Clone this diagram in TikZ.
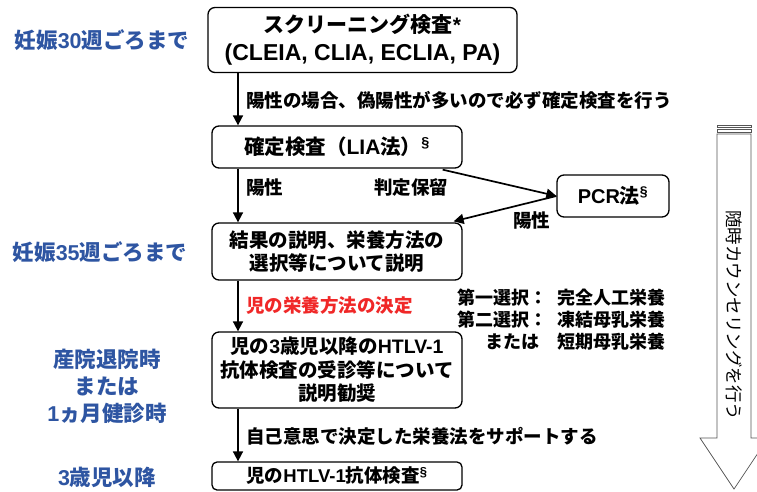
\documentclass[tikz,border=0pt]{standalone}
\usepackage{fontspec}
\setmainfont{Noto Sans CJK JP}
\newfontfamily\lat{Liberation Sans}
\usetikzlibrary{arrows.meta,calc}
\definecolor{lblue}{HTML}{2E55A2}
\definecolor{lred}{HTML}{F02828}
\definecolor{agray}{HTML}{555555}
\newcommand{\sect}{{\lat\textsuperscript{§}}}
\begin{document}
\begin{tikzpicture}[x=1pt,y=-1pt,
  box/.style={draw, rounded corners=7pt, line width=1.3pt, align=center, inner sep=0pt,
    font={\fontsize{19.5}{23.5}\selectfont\bfseries}},
  arr/.style={line width=1.7pt, -{Triangle[length=10pt,width=10pt]}},
  lbl/.style={anchor=west, inner sep=0pt, font={\fontsize{18.5}{22}\selectfont\bfseries}},
  side/.style={inner sep=0pt, align=center, text=lblue, font={\fontsize{21.5}{27}\selectfont\bfseries}},
  opt/.style={inner sep=0pt, font={\fontsize{18}{22}\selectfont\bfseries}}]
\fill[white] (0,0) rectangle (757,491);
\useasboundingbox (0,0) rectangle (757,491);

% big side arrow
\draw[agray, line width=0.7pt, fill=white] (717,125) rectangle (751,127.5);
\draw[agray, line width=0.7pt, fill=white] (717,129.5) rectangle (751,132);
\draw[agray, line width=0.7pt, fill=white] (717,134) -- (717,438) -- (700,438) -- (734,489) -- (768,438) -- (751,438) -- (751,134) -- cycle;
\node[rotate=-90, inner sep=0pt, font={\fontsize{17.5}{20}\selectfont}] (couns) at (734,315) {随時カウンセリングを行う};

% boxes
\node[box, minimum width=309pt, minimum height=65pt, font={\fontsize{21}{28}\selectfont\bfseries}] (b1) at (362.5,40)
  {スクリーニング検査{\lat *}\\{\lat\fontsize{23}{28}\selectfont (CLEIA, CLIA, ECLIA, PA)}};
\node[box, minimum width=250pt, minimum height=42pt, font={\fontsize{20.5}{24}\selectfont\bfseries}] (b2) at (337,147)
  {確定検査（{\lat\fontsize{21}{24}\selectfont LIA}法）\sect};
\node[box, minimum width=112pt, minimum height=42pt, font={\fontsize{20}{24}\selectfont\bfseries}] (pcr) at (613,196)
  {{\lat PCR}法\sect};
\node[box, minimum width=250pt, minimum height=57pt] (b3) at (337,251.5)
  {結果の説明、栄養方法の\\選択等について説明};
\node[box, minimum width=250pt, minimum height=76pt] (b4) at (337,370)
  {児の{\lat 3}歳児以降の{\lat HTLV-1}\\抗体検査の受診等について\\説明勧奨};
\node[box, minimum width=250pt, minimum height=28pt, rounded corners=5pt, font={\fontsize{18.5}{22}\selectfont\bfseries}] (b5) at (337,476)
  {児の{\lat HTLV-1}抗体検査\sect};

% connectors
\coordinate (ax) at (238,0);
\draw[arr] (b1.south -| ax) -- (b2.north -| ax);
\draw[arr] (b2.south -| ax) -- (b3.north -| ax);
\draw[arr] (b3.south -| ax) -- (b4.north -| ax);
\draw[arr] (b4.south -| ax) -- (b5.north -| ax);
\draw[arr] ($(b2.south east)+(-20,1)$) -- (pcr.west);
\draw[arr] (pcr.west) -- ($(b3.north east)+(-9,-1)$);

% labels
\node[lbl] (t1) at (246,100) {陽性の場合、偽陽性が多いので必ず確定検査を行う};
\node[lbl] (t2) at (246,187) {陽性};
\node[lbl] (t3) at (374,187) {判定保留};
\node[lbl] (t4) at (513,220) {陽性};
\node[lbl, text=lred] (t5) at (246,305) {児の栄養方法の決定};
\node[lbl] (t6) at (246,436) {自己意思で決定した栄養法をサポートする};

% options
\node[opt, anchor=east] (o1a) at (548,298) {第一選択：};
\node[opt, anchor=west] (o1b) at (557,298) {完全人工栄養};
\node[opt, anchor=east] (o2a) at (548,320) {第二選択：};
\node[opt, anchor=west] (o2b) at (557,320) {凍結母乳栄養};
\node[opt, anchor=east] (o3a) at (540,342) {または};
\node[opt, anchor=west] (o3b) at (557,342) {短期母乳栄養};

% side labels
\node[side] (s1) at (102,40) {妊娠{\lat 30}週ごろまで};
\node[side] (s2) at (100,252) {妊娠{\lat 35}週ごろまで};
\node[side] (s3) at (107,386) {産院退院時\\または\\{\lat 1}ヵ月健診時};
\node[side] (s4) at (107,477) {{\lat 3}歳児以降};
\end{tikzpicture}
\end{document}
